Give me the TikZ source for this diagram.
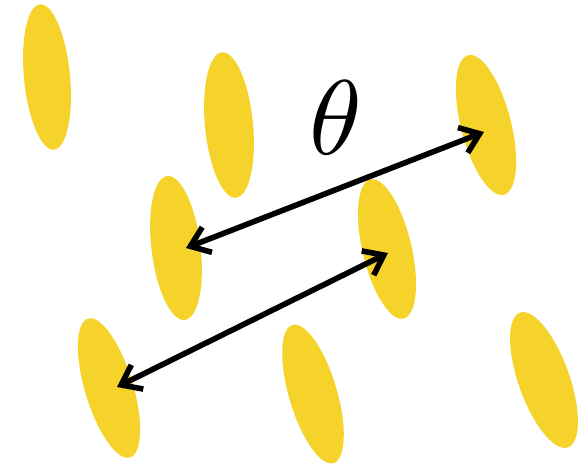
\documentclass[tikz,border=0pt]{standalone}
\usetikzlibrary{arrows.meta,shapes.geometric}
\definecolor{yel}{RGB}{245,211,42}
\begin{document}
\begin{tikzpicture}[x=1pt,y=1pt,
  ell/.style={ellipse,fill=yel,draw=none,inner sep=0pt},
  dbl/.style={line width=5.6pt,line cap=butt,
    {Straight Barb[length=18pt,width=27pt,line join=miter]}-{Straight Barb[length=18pt,width=27pt,line join=miter]}}]
\useasboundingbox (0,0) rectangle (588,465);
\node[ell,minimum width=46pt,minimum height=146pt,rotate=5.5] (e1) at (47,388) {};
\node[ell,minimum width=48pt,minimum height=146pt,rotate=5.5] (e2) at (229,340) {};
\node[ell,minimum width=50pt,minimum height=144pt,rotate=14.4] (e3) at (486,340) {};
\node[ell,minimum width=49pt,minimum height=145pt,rotate=7] (e4) at (176,217) {};
\node[ell,minimum width=49pt,minimum height=143pt,rotate=13.4] (e5) at (387,216) {};
\node[ell,minimum width=48pt,minimum height=145pt,rotate=16.8] (e6) at (109,77) {};
\node[ell,minimum width=48pt,minimum height=144pt,rotate=16.5] (e7) at (313,71) {};
\node[ell,minimum width=51pt,minimum height=143pt,rotate=19.6] (e8) at (544,85) {};
\coordinate (a1s) at (186,217);
\coordinate (a1e) at (484,333);
\coordinate (a2s) at (117,78);
\coordinate (a2e) at (388,212);
\draw[dbl] (a1s) -- (a1e);
\draw[dbl] (a2s) -- (a2e);
\node[scale=10.6,inner sep=0pt] (th) at (336,347) {\fontsize{10}{12}\selectfont$\theta$};
\end{tikzpicture}
\end{document}
